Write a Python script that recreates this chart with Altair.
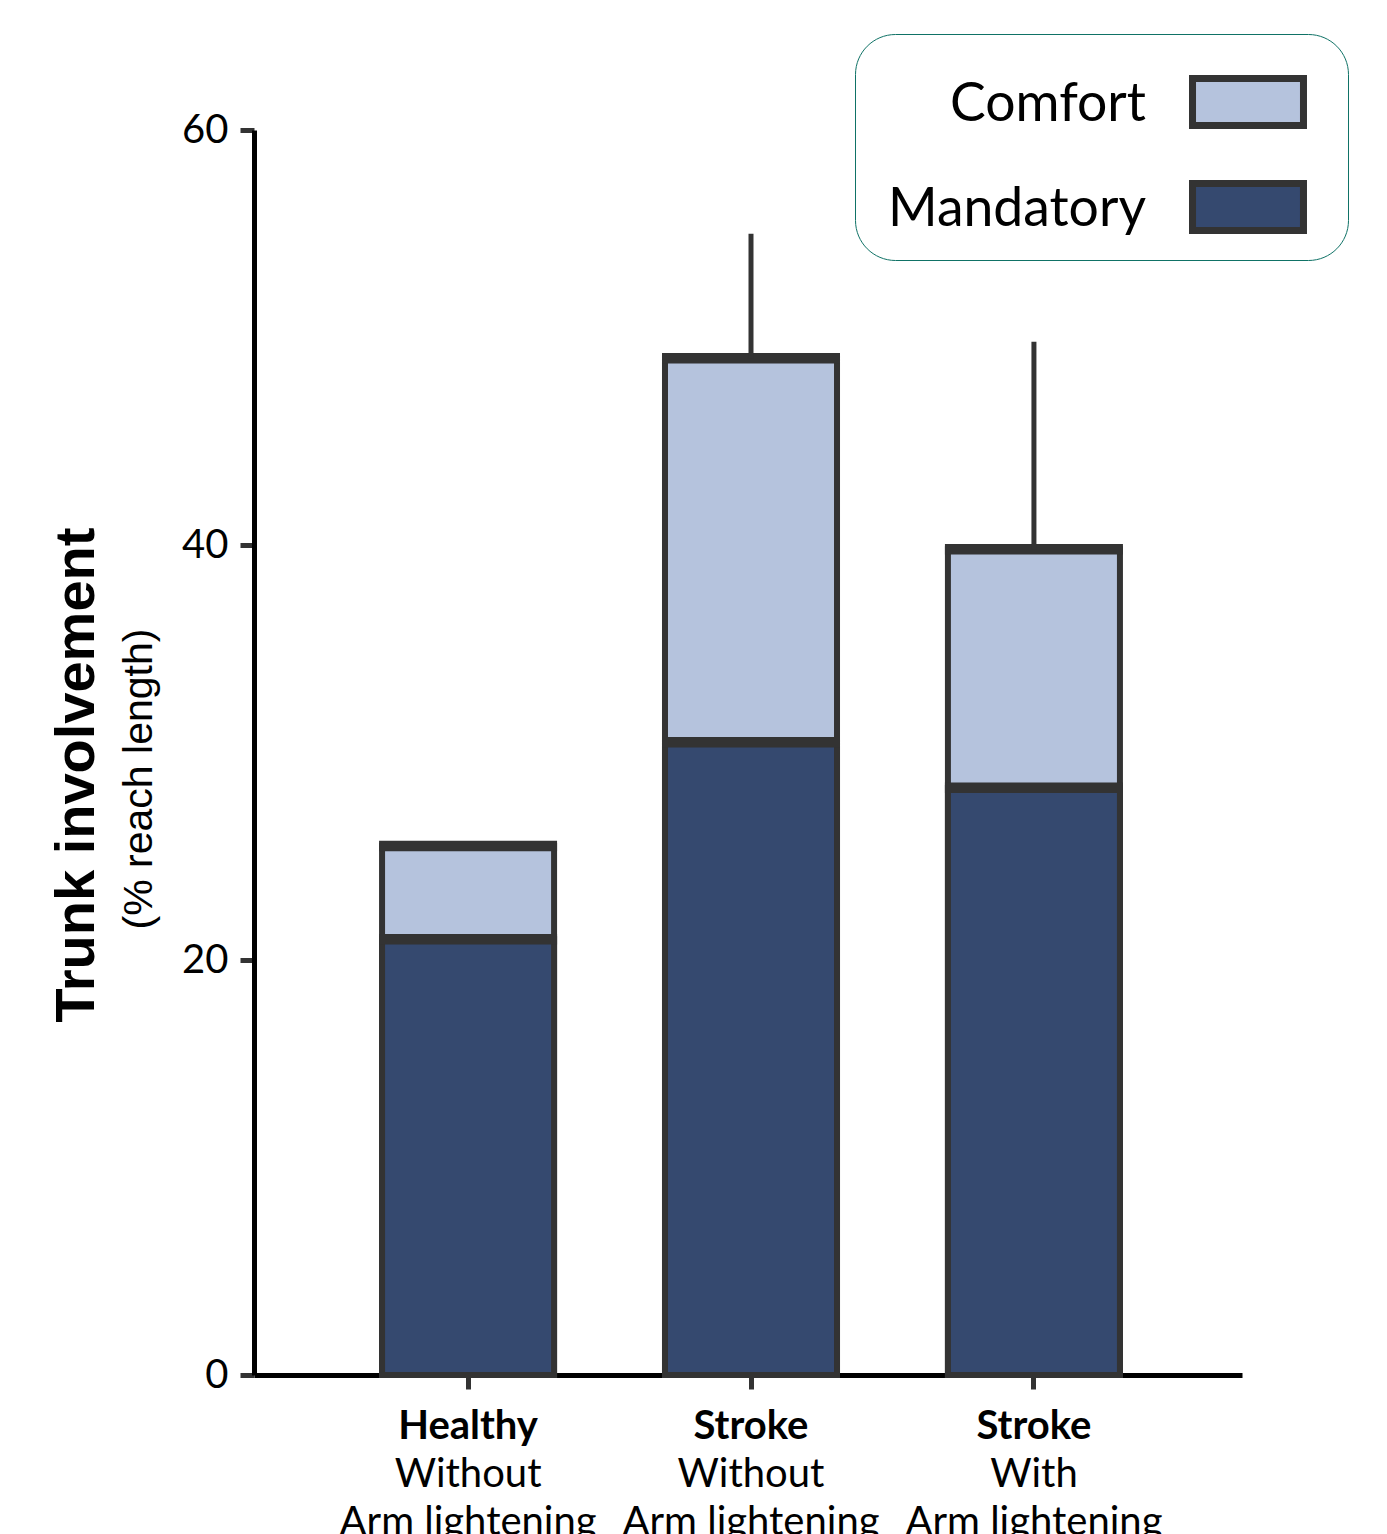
import altair as alt
import pandas as pd

# ---- data ----
conditions = ["Healthy|Without", "Stroke|Without", "Stroke|With"]
group_names = ["Healthy", "Stroke", "Stroke"]
arm_lines = ["Without", "Without", "With"]
third_line = ["Arm lightening", "Arm lightening", "Arm lightening"]
mandatory = [21.0, 30.5, 28.3]
comfort = [25.5, 49.0, 39.8]
error_top = [None, 55.0, 49.8]
series = ["Comfort", "Mandatory"]
series_colors = ["#b5c3dd", "#35496f"]
y_ticks = [0, 20, 40, 60]

W, H = 988, 1245
EDGE = "#333333"

rows = []
for s, vals in (("Comfort", comfort), ("Mandatory", mandatory)):
    for c, v in zip(conditions, vals):
        rows.append({"cond": c, "series": s, "value": v})
bars_df = pd.DataFrame(rows)

err_df = pd.DataFrame({"cond": conditions, "low": comfort, "high": error_top}).dropna()
lab_df = pd.DataFrame({"cond": conditions, "group": group_names, "arm": arm_lines, "third": third_line})

xscale = alt.Scale(domain=conditions, paddingInner=0.392, paddingOuter=0.442, align=0.512)
yscale = alt.Scale(domain=[0, 60], nice=False, zero=True)

x_enc = alt.X("cond:N", scale=xscale, sort=conditions,
              axis=alt.Axis(title=None, labels=False, domainColor="#000000", domainWidth=5,
                            tickColor=EDGE, tickWidth=5, tickSize=14))
y_enc = alt.Y("value:Q", scale=yscale, stack=None,
              axis=alt.Axis(title=None, values=y_ticks, grid=False, domainColor="#000000", domainWidth=5,
                            tickColor=EDGE, tickWidth=5, tickSize=14, labelFont="Lato", labelFontSize=40,
                            labelColor="#000000", labelPadding=12))

legend = alt.Legend(
    title=None, orient="none", legendX=601, legendY=-96,
    labelFont="Lato", labelFontSize=53.5, labelColor="#000000",
    labelAlign="right", labelBaseline="alphabetic", labelOffset={"expr": "-174"},
    labelLimit=0, symbolOffset=306,
    symbolType="M-0.81,-0.62L0.81,-0.62L0.81,0.066L-0.81,0.066ZM1.03,-0.277",
    symbolSize=18769, symbolStrokeColor=EDGE, symbolStrokeWidth=7,
    rowPadding=14, padding=15, cornerRadius=40,
    strokeColor="#0f7266", fillColor="#ffffff",
)

bars = alt.Chart(bars_df).mark_bar(stroke=EDGE, strokeWidth=6).encode(
    x=x_enc,
    y=y_enc,
    fill=alt.Fill("series:N", scale=alt.Scale(domain=series, range=series_colors), legend=legend),
    order=alt.Order("series:N"),
)

tops = alt.Chart(bars_df).mark_tick(color=EDGE, thickness=10.5, size=178, opacity=1).encode(
    x=alt.X("cond:N", scale=xscale, sort=conditions),
    y=alt.Y("value:Q", scale=yscale, stack=None),
)

errs = alt.Chart(err_df).mark_rule(color=EDGE, strokeWidth=5).encode(
    x=alt.X("cond:N", scale=xscale, sort=conditions),
    y=alt.Y("low:Q", scale=yscale),
    y2="high:Q",
)

lab1 = alt.Chart(lab_df).mark_text(font="Lato", fontWeight="bold", fontSize=40, color="#000000",
                                   baseline="alphabetic", align="center").encode(
    x=alt.X("cond:N", scale=xscale, sort=conditions), y=alt.value(H + 64), text="group:N")
lab2 = alt.Chart(lab_df).mark_text(font="Lato", fontSize=40, color="#000000",
                                   baseline="alphabetic", align="center").encode(
    x=alt.X("cond:N", scale=xscale, sort=conditions), y=alt.value(H + 112), text="arm:N")
lab3 = alt.Chart(lab_df).mark_text(font="Lato", fontSize=40, color="#000000",
                                   baseline="alphabetic", align="center").encode(
    x=alt.X("cond:N", scale=xscale, sort=conditions), y=alt.value(H + 160), text="third:N")

title_df = pd.DataFrame({"t1": ["Trunk involvement"], "t2": ["(% reach length)"]})
t1 = alt.Chart(title_df).mark_text(font="Liberation Sans", fontWeight="bold", fontSize=56, angle=270,
                                   color="#000000", baseline="middle", align="center").encode(
    x=alt.value(-177), y=alt.value(645), text="t1:N")
t2 = alt.Chart(title_df).mark_text(font="Liberation Sans", fontSize=41, angle=270,
                                   color="#000000", baseline="middle", align="center").encode(
    x=alt.value(-114), y=alt.value(649), text="t2:N")

chart = alt.layer(bars, tops, errs, lab1, lab2, lab3, t1, t2).properties(
    width=W, height=H,
    autosize=alt.AutoSizeParams(type="none"),
    padding={"left": 246, "top": 122, "right": 120, "bottom": 200},
    background="#ffffff",
).configure_view(stroke=None)

chart.save("out.html", embed_options={"renderer": "svg", "actions": False})
